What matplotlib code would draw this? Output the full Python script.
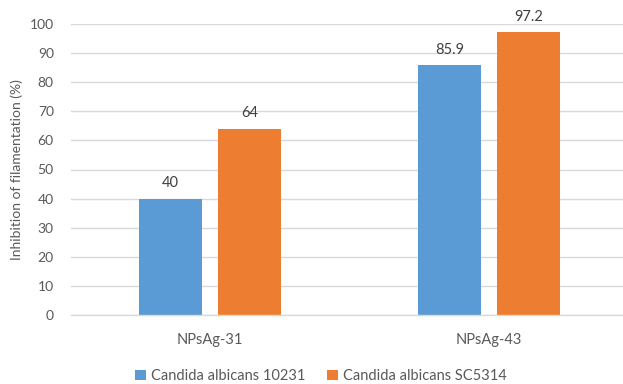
import matplotlib
matplotlib.use("Agg")
import matplotlib.pyplot as plt
import numpy as np
from matplotlib.patches import Patch

categories = ["NPsAg-31", "NPsAg-43"]
series_names = ["Candida albicans 10231", "Candida albicans SC5314"]
values_10231 = [40, 85.9]
values_sc5314 = [64, 97.2]
value_labels_10231 = ["40", "85.9"]
value_labels_sc5314 = ["64", "97.2"]
y_ticks = [0, 10, 20, 30, 40, 50, 60, 70, 80, 90, 100]

colors = ["#5B9BD5", "#ED7D31"]
text_color = "#595959"
font = "Lato"

fig = plt.figure(figsize=(6.23, 3.84), dpi=100)
ax = fig.add_axes([70.5 / 623, 69 / 384, 558 / 623, 291 / 384])

x = np.arange(len(categories))
width = 0.226
offset = 0.1416
for vals, labels, color, sign in [(values_10231, value_labels_10231, colors[0], -1),
                                  (values_sc5314, value_labels_sc5314, colors[1], 1)]:
    bars = ax.bar(x + sign * offset, vals, width=width, color=color, zorder=3)
    for b, lab in zip(bars, labels):
        ax.annotate(lab, (b.get_x() + b.get_width() / 2, b.get_height()),
                    xytext=(0, 6), textcoords="offset points", ha="center", va="bottom",
                    fontsize=10.5, color="#404040", family=font)

ax.set_xlim(-0.5, 1.5)
ax.set_ylim(0, 100)
ax.set_yticks(y_ticks)
ax.set_yticklabels([str(t) for t in y_ticks], family=font, fontsize=10, color=text_color)
ax.set_xticks(x)
ax.set_xticklabels(categories, family=font, fontsize=10.5, color=text_color)
ax.tick_params(axis="both", length=0)
ax.tick_params(axis="x", pad=13)
ax.tick_params(axis="y", pad=12)
ax.grid(axis="y", color="#D9D9D9", linewidth=1, zorder=0)
for s in ["top", "right", "left"]:
    ax.spines[s].set_visible(False)
ax.spines["bottom"].set_color("#D9D9D9")
ax.spines["bottom"].set_linewidth(1)
ax.spines["bottom"].set_zorder(4)

ax.set_ylabel("Inhibition of filamentation (%)", family=font, fontsize=10, color=text_color, labelpad=5)

handles = [Patch(facecolor=c) for c in colors]
fig.legend(handles, series_names, loc="center", bbox_to_anchor=(321 / 623, 1 - 376 / 384),
           ncol=2, frameon=False, prop={"family": font, "size": 10.5}, labelcolor=text_color,
           handlelength=0.75, handleheight=0.75, handletextpad=0.35, columnspacing=1.5)

fig.savefig("out.png", dpi=100)
